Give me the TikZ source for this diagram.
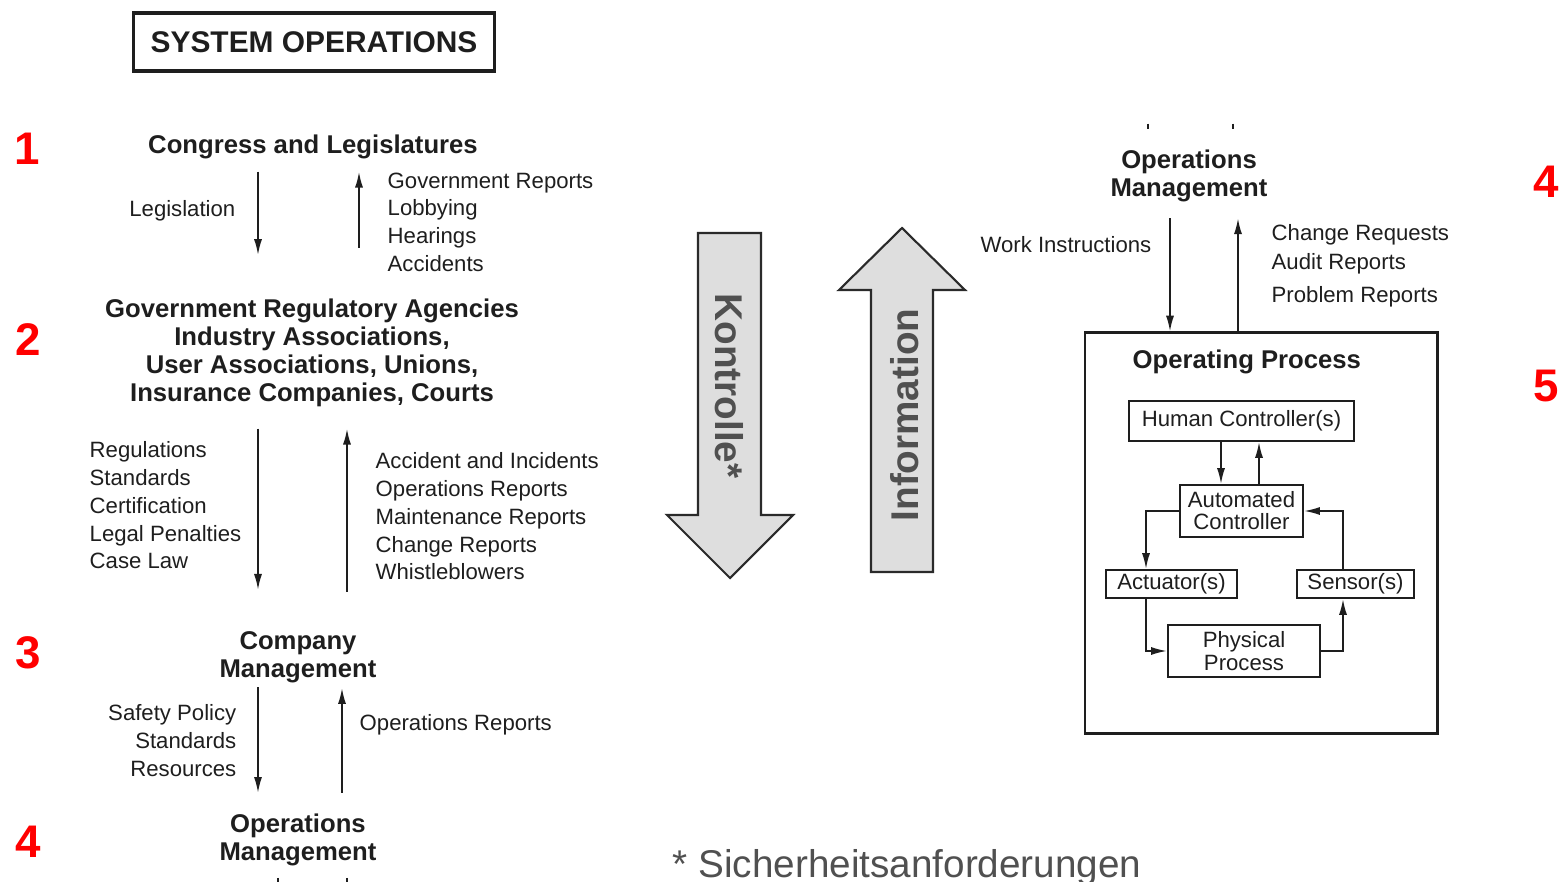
\documentclass[tikz,border=0pt]{standalone}
\usepackage{fontspec}
\setmainfont{Liberation Sans}
\usetikzlibrary{arrows.meta}
\definecolor{ink}{HTML}{1E1E1E}
\definecolor{arrowfill}{HTML}{DEDEDE}
\definecolor{arrowline}{HTML}{2A2A2A}
\definecolor{arrowtxt}{HTML}{505050}
\definecolor{numred}{HTML}{FF0000}
\tikzset{
    lvl/.style={font=\fontsize{7.3}{7.9}\selectfont\bfseries, text=ink, inner sep=0pt, align=center},
    lst/.style={font=\fontsize{6.3}{7.9}\selectfont, text=ink, inner sep=0pt, align=left},
    num/.style={font=\fontsize{13}{13}\selectfont\bfseries, text=numred, inner sep=0pt, anchor=base},
    flow/.style={draw=ink, line width=0.5pt, -{Latex[length=4.5pt,width=2.3pt]}},
    blk/.style={draw=ink, line width=0.6pt, text=ink, font=\fontsize{6.3}{6.3}\selectfont, align=center, inner sep=0pt},
    bigarrow/.style={fill=arrowfill, draw=arrowline, line width=0.6pt},
    arrowtext/.style={font=\fontsize{11}{11}\selectfont\bfseries, text=arrowtxt, inner sep=0pt}
}
\begin{document}
\begin{tikzpicture}[x=0.01cm, y=-0.01cm]
                \useasboundingbox (0,0) rectangle (1560,882);
                \node[draw=ink, line width=0.9pt, minimum width=3.6cm, minimum height=0.58cm, inner sep=0pt,
                    font=\fontsize{8.5}{8.5}\selectfont\bfseries, text=ink] (sysops) at (314,42) {SYSTEM OPERATIONS};
                \node[num] (n1) at (27,165) {1};
                \node[num] (n2) at (28,355) {2};
                \node[num] (n3) at (28,668) {3};
                \node[num] (n4) at (28,857) {4};
                \node[num] (n4r) at (1546,198) {4};
                \node[num] (n5) at (1546,402) {5};
                % left column
                \node[lvl, anchor=base] (congress) at (313,154) {Congress and Legislatures};
                \node[lvl, anchor=north] (agencies) at (312,298.6) {Government Regulatory Agencies\\Industry Associations,\\User Associations, Unions,\\Insurance Companies, Courts};
                \node[lvl, anchor=north] (company) at (298,630.6) {Company\\Management};
                \node[lvl, anchor=north] (opsmgmt) at (298,813.6) {Operations\\Management};
                \node[lst, anchor=base east] (legis) at (236,217) {Legislation};
                \node[lst, anchor=north west] (govrep) at (387,172) {Government Reports\\Lobbying\\Hearings\\Accidents};
                \node[lst, anchor=north west] (regul) at (89,441) {Regulations\\Standards\\Certification\\Legal Penalties\\Case Law};
                \node[lst, anchor=north west] (accid) at (375,452) {Accident and Incidents\\Operations Reports\\Maintenance Reports\\Change Reports\\Whistleblowers};
                \node[lst, anchor=north east, align=right] (safety) at (237,704) {Safety Policy\\Standards\\Resources};
                \node[lst, anchor=base west] (opsrep) at (359,730) {Operations Reports};
                \coordinate (xdn) at (258,0);
                \coordinate (xup1) at (359,0);
                \coordinate (xup2) at (347,0);
                \coordinate (xup3) at (342,0);
                \coordinate (xst1) at (278,0);
                \coordinate (xst2) at (347,0);
                \draw[flow, shorten <=3.3pt, shorten >=12.4pt] (congress.south -| xdn) -- (agencies.north -| xdn);
                \draw[flow, shorten <=14.4pt, shorten >=3.3pt] (agencies.north -| xup1) -- (congress.south -| xup1);
                \draw[flow, shorten <=6.1pt, shorten >=11.6pt] (agencies.south -| xdn) -- (company.north -| xdn);
                \draw[flow, shorten <=11pt, shorten >=6.1pt] (company.north -| xup2) -- (agencies.south -| xup2);
                \draw[flow, shorten <=1.1pt, shorten >=5.9pt] (company.south -| xdn) -- (opsmgmt.north -| xdn);
                \draw[flow, shorten <=5.9pt, shorten >=1.4pt] (opsmgmt.north -| xup3) -- (company.south -| xup3);
                \draw[ink, line width=0.5pt] (opsmgmt.south -| xst1) ++(0,11) -- ++(0,7);
                \draw[ink, line width=0.5pt] (opsmgmt.south -| xst2) ++(0,11) -- ++(0,7);
                % big arrows
                \draw[bigarrow] (698,233) -- (761,233) -- (761,515) -- (793,515) -- (730,578) -- (667,515) -- (698,515) -- cycle;
                \node[arrowtext, rotate=-90] (kontrolle) at (729,386) {Kontrolle*};
                \draw[bigarrow] (871,572) -- (933,572) -- (933,290) -- (965,290) -- (902,228) -- (839,290) -- (871,290) -- cycle;
                \node[arrowtext, rotate=90] (information) at (905,415) {Information};
                \node[font=\fontsize{11}{11}\selectfont, text=arrowtxt, inner sep=0pt, anchor=base west] (note) at (672,877) {* Sicherheitsanforderungen};
                % right column
                \node[lvl, anchor=north] (opsmgmt2) at (1189,149.6) {Operations\\Management};
                \node[lst, anchor=base east] (workins) at (1152,252) {Work Instructions};
                \node[lst, anchor=north west, font=\fontsize{6.3}{8.2}\selectfont] (changereq) at (1271,224) {Change Requests\\Audit Reports\\[1.2pt]Problem Reports};
                \node[draw=ink, line width=0.8pt, minimum width=3.52cm, minimum height=4cm, inner sep=0pt] (opproc) at (1261,533) {};
                \node[lvl, anchor=base west] (optitle) at (1132,368) {Operating Process};
                \node[blk, minimum width=2.25cm, minimum height=0.4cm] (human) at (1241.5,421) {Human Controller(s)};
                \node[blk, minimum width=1.23cm, minimum height=0.52cm] (auto) at (1241.5,511) {Automated\\Controller};
                \node[blk, minimum width=1.31cm, minimum height=0.28cm] (act) at (1171.5,584) {Actuator(s)};
                \node[blk, minimum width=1.17cm, minimum height=0.28cm] (sens) at (1355.5,584) {Sensor(s)};
                \node[blk, minimum width=1.52cm, minimum height=0.52cm] (phys) at (1244,651) {Physical\\Process};
                \coordinate (xwi) at (1170,0);
                \coordinate (xcr) at (1238,0);
                \coordinate (xhd) at (1221,0);
                \coordinate (xhu) at (1259,0);
                \coordinate (xact) at (1146,0);
                \coordinate (xsen) at (1343,0);
                \draw[ink, line width=0.5pt] (opsmgmt2.north -| 1148,0) ++(0,-26) -- ++(0,5);
                \draw[ink, line width=0.5pt] (opsmgmt2.north -| 1233,0) ++(0,-26) -- ++(0,5);
                \draw[flow, shorten <=4.4pt] (opsmgmt2.south -| xwi) -- (opproc.north -| xwi);
                \draw[flow, shorten >=4.4pt] (opproc.north -| xcr) -- (opsmgmt2.south -| xcr);
                \draw[flow] (human.south -| xhd) -- (auto.north -| xhd);
                \draw[flow] (auto.north -| xhu) -- (human.south -| xhu);
                \draw[flow] (auto.west) -| (act.north -| xact);
                \draw[flow] (act.south -| xact) |- (phys.west);
                \draw[flow] (phys.east) -| (sens.south -| xsen);
                \draw[flow] (sens.north -| xsen) |- (auto.east);
            \end{tikzpicture}
\end{document}
